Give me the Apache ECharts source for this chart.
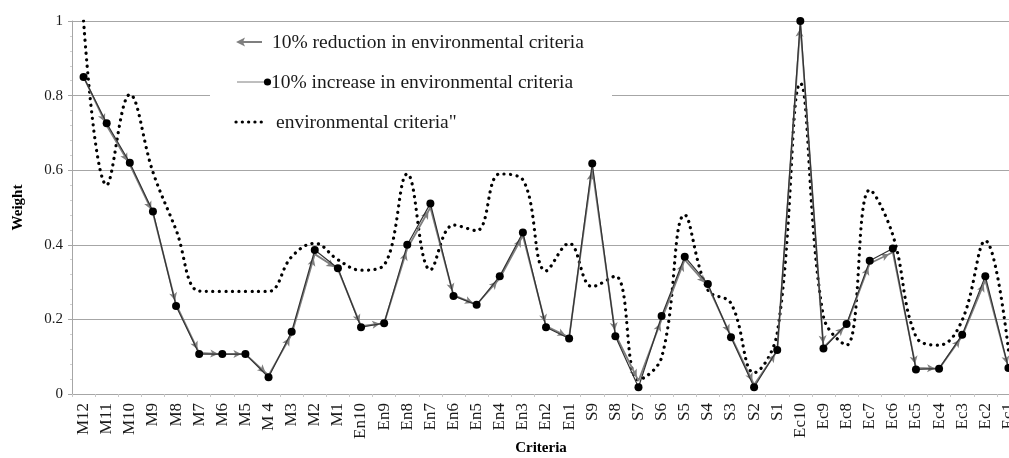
<!DOCTYPE html>
<html>
<head>
<meta charset="utf-8">
<script src="https://cdn.jsdelivr.net/npm/echarts@6/dist/echarts.min.js"></script>
<style>html,body{margin:0;padding:0;background:#fff;overflow:hidden;}#c{width:1009px;height:458px;}</style>
</head>
<body>
<div id="c"></div>
<script>
const categories = ['M12','M11','M10','M9','M8','M7','M6','M5','M 4','M3','M2','M1','En10','En9','En8','En7','En6','En5','En4','En3','En2','En1','S9','S8','S7','S6','S5','S4','S3','S2','S1','Ec10','Ec9','Ec8','Ec7','Ec6','Ec5','Ec4','Ec3','Ec2','Ec1'];
const reductionValues = [0.85,0.72,0.615,0.485,0.24,0.11,0.107,0.107,0.05,0.16,0.375,0.335,0.182,0.19,0.39,0.50,0.265,0.24,0.31,0.425,0.182,0.152,0.605,0.16,0.035,0.2,0.36,0.29,0.155,0.025,0.115,0.99,0.125,0.185,0.35,0.38,0.07,0.068,0.155,0.305,0.07];
const increaseValues = [0.85,0.726,0.62,0.489,0.236,0.107,0.107,0.107,0.045,0.167,0.386,0.337,0.179,0.19,0.40,0.511,0.263,0.239,0.316,0.433,0.179,0.149,0.618,0.155,0.018,0.209,0.368,0.295,0.152,0.018,0.118,1.0,0.122,0.188,0.357,0.39,0.066,0.068,0.159,0.316,0.07];
const environmentalValues = [1.0,0.56,0.803,0.595,0.44,0.276,0.275,0.275,0.275,0.368,0.404,0.36,0.332,0.346,0.59,0.333,0.453,0.438,0.59,0.574,0.33,0.404,0.288,0.316,0.038,0.098,0.48,0.279,0.243,0.057,0.163,0.833,0.207,0.131,0.547,0.426,0.154,0.131,0.198,0.411,0.118];
const yTicks = [0, 0.2, 0.4, 0.6, 0.8, 1];
const legendNames = ['10% reduction in environmental criteria', '10% increase in environmental criteria', 'environmental criteria"'];

const FONT = '"Liberation Serif", "Times New Roman", serif';
const chart = echarts.init(document.getElementById('c'), null, {renderer: 'canvas'});

const option = {
  animation: false,
  backgroundColor: '#fff',
  grid: {left: 72, top: 21, width: 948, height: 373, containLabel: false, outerBoundsMode: 'none'},
  xAxis: {
    type: 'category',
    data: categories,
    boundaryGap: true,
    name: 'Criteria',
    nameLocation: 'middle',
    nameGap: 47,
    nameMoveOverlap: false,
    nameTextStyle: {fontFamily: FONT, fontSize: 15, fontWeight: 'bold', color: '#000', padding: [0, 10, 0, 0]},
    axisLine: {lineStyle: {color: '#a6a6a6', width: 1}},
    axisTick: {show: true, alignWithLabel: false, length: 3, lineStyle: {color: '#c8c8c8'}},
    axisLabel: {rotate: 90, interval: 0, margin: 9, fontFamily: FONT, fontSize: 17, color: '#1a1a1a', hideOverlap: false},
    splitLine: {show: false}
  },
  yAxis: {
    type: 'value',
    min: 0, max: 1, interval: 0.2,
    name: 'Weight',
    nameLocation: 'middle',
    nameGap: 46,
    nameRotate: 90,
    nameTextStyle: {fontFamily: FONT, fontSize: 15, fontWeight: 'bold', color: '#000'},
    axisLine: {show: true, lineStyle: {color: '#a6a6a6', width: 1}},
    axisTick: {show: true, length: 4, lineStyle: {color: '#a6a6a6'}},
    minorTick: {show: true, splitNumber: 5, length: 2, lineStyle: {color: '#d0d0d0'}},
    axisLabel: {margin: 9, fontFamily: FONT, fontSize: 15, color: '#1a1a1a',
      formatter: function (v) { return yTicks.indexOf(+v.toFixed(1)) >= 0 ? String(+v.toFixed(1)) : ''; }},
    splitLine: {show: true, lineStyle: {color: '#a6a6a6', width: 1}}
  },
  series: [
    {
      name: legendNames[2],
      type: 'line',
      data: environmentalValues,
      smooth: 0.4,
      symbol: 'none',
      lineStyle: {color: '#000', width: 3.2, type: [0.1, 6.4], cap: 'round'},
      z: 2
    },
    {
      name: legendNames[1],
      type: 'line',
      data: increaseValues,
      symbol: 'circle',
      symbolSize: 8,
      itemStyle: {color: '#000'},
      lineStyle: {color: '#333', width: 1.2},
      z: 4
    },
    {
      name: legendNames[0],
      type: 'line',
      data: reductionValues,
      symbol: 'none',
      lineStyle: {color: '#7f7f7f', width: 1.8},
      z: 3
    }
  ],
  graphic: [
    {type: 'rect', z: 50, shape: {x: 210, y: 24, width: 402, height: 112}, style: {fill: '#fff'}},
    {type: 'line', z: 51, shape: {x1: 240, y1: 42, x2: 262, y2: 42}, style: {stroke: '#7f7f7f', lineWidth: 2}},
    {type: 'polygon', z: 51, shape: {points: [[236, 42], [245, 37.5], [243, 42], [245, 46.5]]}, style: {fill: '#7f7f7f'}},
    {type: 'text', z: 51, x: 272, y: 43, style: {text: legendNames[0], fontFamily: FONT, fontSize: 19.5, fill: '#1a1a1a', verticalAlign: 'middle'}},
    {type: 'line', z: 51, shape: {x1: 237, y1: 82, x2: 266, y2: 82}, style: {stroke: '#7f7f7f', lineWidth: 1}},
    {type: 'circle', z: 52, shape: {cx: 267.5, cy: 82, r: 3.6}, style: {fill: '#000'}},
    {type: 'text', z: 51, x: 271, y: 83, style: {text: legendNames[1], fontFamily: FONT, fontSize: 19.5, fill: '#1a1a1a', verticalAlign: 'middle'}},
    {type: 'line', z: 51, shape: {x1: 236, y1: 122, x2: 267, y2: 122}, style: {stroke: '#000', lineWidth: 3.2, lineDash: [0.1, 6.2], lineCap: 'round'}},
    {type: 'text', z: 51, x: 276, y: 123, style: {text: legendNames[2], fontFamily: FONT, fontSize: 19.5, fill: '#1a1a1a', verticalAlign: 'middle'}}
  ]
};
chart.setOption(option);

// Arrowheads at the end of each segment of the reduction series, oriented along the segment
const arrowLen = 8;
const arrowData = reductionValues.map(function (v, i) {
  if (i === 0) return {value: v, symbol: 'none'};
  const p0 = chart.convertToPixel({gridIndex: 0}, [i - 1, reductionValues[i - 1]]);
  const p1 = chart.convertToPixel({gridIndex: 0}, [i, v]);
  const dx = p1[0] - p0[0], dy = p1[1] - p0[1];
  const len = Math.sqrt(dx * dx + dy * dy) || 1;
  const ang = Math.atan2(-dy, dx) * 180 / Math.PI;
  return {
    value: v,
    symbol: 'arrow',
    symbolSize: [6, arrowLen],
    symbolRotate: ang - 90,
    symbolOffset: [-dx / len * arrowLen / 2, -dy / len * arrowLen / 2]
  };
});
chart.setOption({series: [{}, {}, {data: arrowData, itemStyle: {color: '#7f7f7f'}}]});
</script>
</body>
</html>
